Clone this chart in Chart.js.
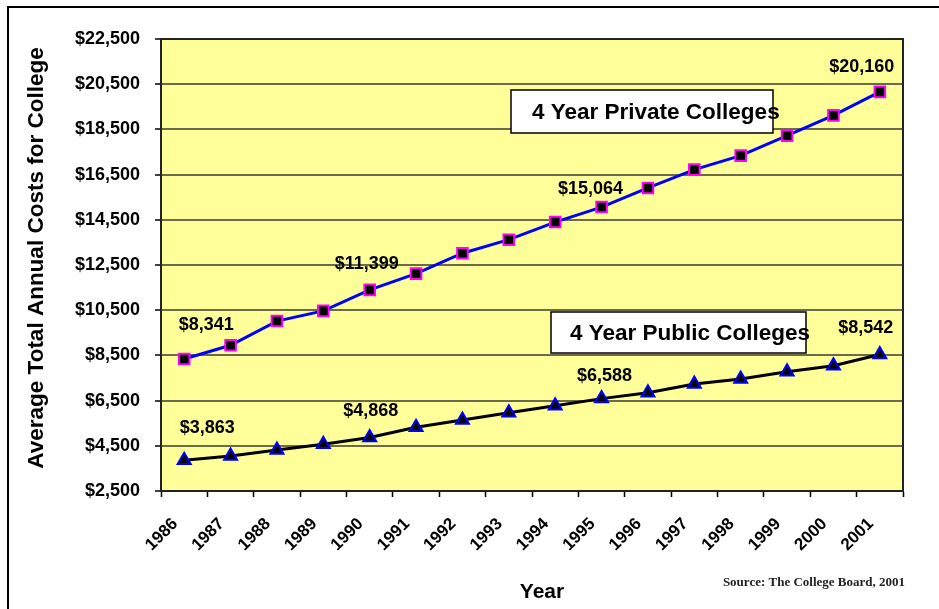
<!DOCTYPE html>
<html>
<head>
<meta charset="utf-8">
<script src="https://cdn.jsdelivr.net/npm/chart.js@4.4.0/dist/chart.umd.min.js"></script>
<style>
html,body{margin:0;padding:0;background:#fff;}
#wrap{position:relative;width:939px;height:609px;}
</style>
</head>
<body>
<div id="wrap"><canvas id="c" width="939" height="609"></canvas></div>
<script>
// ---- data ----
const years = ['1986','1987','1988','1989','1990','1991','1992','1993','1994','1995','1996','1997','1998','1999','2000','2001'];
const privateCosts = [8341, 8950, 10020, 10470, 11399, 12120, 13020, 13620, 14400, 15064, 15910, 16720, 17340, 18220, 19120, 20160];
const publicCosts  = [3863, 4050, 4310, 4570, 4868, 5320, 5640, 5965, 6275, 6588, 6850, 7235, 7455, 7780, 8045, 8542];
const yTickValues = [2500, 4500, 6500, 8500, 10500, 12500, 14500, 16500, 18500, 20500, 22500];
const labeledYears = ['1986', '1990', '1995', '2001'];
const seriesNames = ['4 Year Private Colleges', '4 Year Public Colleges'];
const yAxisTitle = 'Average Total Annual Costs for College';
const xAxisTitle = 'Year';
const sourceNote = 'Source: The College Board, 2001';

const fmt = v => '$' + v.toLocaleString('en-US');
const SANS = '"Liberation Sans", Arial, sans-serif';

// label offsets (pixels, relative to the point) per series, by labeled year
const labelOffsets = [
  {'1986':[22,-34], '1990':[-3,-26], '1995':[-11,-18], '2001':[-18,-25]},
  {'1986':[23,-32], '1990':[1,-26],  '1995':[3,-23],   '2001':[-14,-26]}
];

const decor = {
  id: 'decor',
  beforeDraw(chart) {
    const {ctx, chartArea: a} = chart;
    ctx.save();
    ctx.fillStyle = '#FFFF99';
    ctx.fillRect(a.left, a.top, a.right - a.left, a.bottom - a.top);
    ctx.restore();
  },
  afterDraw(chart) {
    const {ctx, chartArea: a} = chart;
    ctx.save();
    // plot border
    ctx.strokeStyle = '#222';
    ctx.lineWidth = 2;
    ctx.strokeRect(a.left, a.top, a.right - a.left, a.bottom - a.top);
    // outer frame
    ctx.strokeStyle = '#000';
    ctx.lineWidth = 2;
    ctx.beginPath();
    ctx.moveTo(8, 620); ctx.lineTo(8, 7); ctx.lineTo(945, 7);
    ctx.stroke();

    // data labels
    ctx.fillStyle = '#000';
    ctx.font = 'bold 18px ' + SANS;
    ctx.textAlign = 'center';
    ctx.textBaseline = 'middle';
    chart.data.datasets.forEach((ds, di) => {
      const meta = chart.getDatasetMeta(di);
      labeledYears.forEach(yr => {
        const i = years.indexOf(yr);
        const pt = meta.data[i];
        const off = labelOffsets[di][yr];
        ctx.fillText(fmt(ds.data[i]), pt.x + off[0], pt.y + off[1]);
      });
    });

    // series text boxes
    const boxes = [
      {x: 511, y: 90, w: 262, h: 43, tx: 532, ty: 113},
      {x: 551, y: 312, w: 255, h: 41, tx: 570, ty: 334}
    ];
    boxes.forEach((b, i) => {
      ctx.fillStyle = '#fff';
      ctx.fillRect(b.x, b.y, b.w, b.h);
      ctx.strokeStyle = '#000';
      ctx.lineWidth = 1.5;
      ctx.strokeRect(b.x, b.y, b.w, b.h);
      ctx.fillStyle = '#000';
      ctx.font = 'bold 22.5px ' + SANS;
      ctx.textAlign = 'left';
      ctx.textBaseline = 'middle';
      ctx.fillText(seriesNames[i], b.tx, b.ty);
    });

    // y axis title
    ctx.save();
    ctx.translate(37, 258);
    ctx.rotate(-Math.PI / 2);
    ctx.font = 'bold 22.5px ' + SANS;
    ctx.textAlign = 'center';
    ctx.textBaseline = 'middle';
    ctx.fillStyle = '#000';
    ctx.fillText(yAxisTitle, 0, 0);
    ctx.restore();

    // x axis title
    ctx.font = 'bold 21px ' + SANS;
    ctx.textAlign = 'center';
    ctx.textBaseline = 'middle';
    ctx.fillStyle = '#000';
    ctx.fillText(xAxisTitle, 542, 592);

    // source note
    ctx.font = 'bold 13px "Liberation Serif", "Times New Roman", serif';
    ctx.textAlign = 'right';
    ctx.fillStyle = '#222';
    ctx.fillText(sourceNote, 905, 583);
    ctx.restore();
  }
};

new Chart(document.getElementById('c'), {
  type: 'line',
  data: {
    labels: years,
    datasets: [
      {
        label: seriesNames[0],
        data: privateCosts,
        borderColor: '#0000FF',
        borderWidth: 3,
        pointStyle: 'rect',
        pointRadius: 7.5,
        pointBackgroundColor: '#000',
        pointBorderColor: '#FF00FF',
        pointBorderWidth: 2,
        tension: 0
      },
      {
        label: seriesNames[1],
        data: publicCosts,
        borderColor: '#000',
        borderWidth: 3,
        pointStyle: 'triangle',
        pointRadius: 7.5,
        pointBackgroundColor: '#000',
        pointBorderColor: '#0000FF',
        pointBorderWidth: 2,
        tension: 0
      }
    ]
  },
  options: {
    responsive: false,
    animation: false,
    layout: {padding: {top: 39, right: 36, left: 0, bottom: 0}},
    plugins: {legend: {display: false}, tooltip: {enabled: false}},
    scales: {
      x: {
        offset: true,
        grid: {display: true, drawOnChartArea: false, offset: true, tickLength: 6, tickColor: '#000', tickWidth: 1.5},
        border: {display: true, color: '#000', width: 2},
        ticks: {
          autoSkip: false, minRotation: 45, maxRotation: 45, padding: 17, labelOffset: -9,
          color: '#000', font: {family: SANS, weight: 'bold', size: 17}
        },
        afterFit(s) { s.height = 118; }
      },
      y: {
        min: yTickValues[0],
        max: yTickValues[yTickValues.length - 1],
        afterBuildTicks(s) { s.ticks = yTickValues.map(v => ({value: v})); },
        grid: {color: '#6b6b4c', lineWidth: 2, tickLength: 6, tickColor: '#000', tickWidth: 1.5},
        border: {display: true, color: '#000', width: 2},
        ticks: {
          padding: 15, color: '#000',
          font: {family: SANS, weight: 'bold', size: 18},
          callback: v => fmt(v)
        },
        afterFit(s) { s.width = 161; }
      }
    }
  },
  plugins: [decor]
});
</script>
</body>
</html>
